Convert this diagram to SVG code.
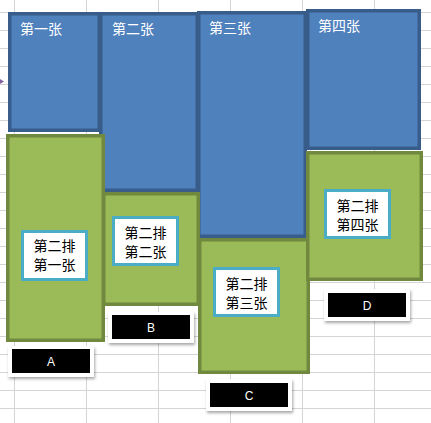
<svg xmlns="http://www.w3.org/2000/svg" width="431" height="423" viewBox="0 0 431 423">
<defs>
<filter id="sh" x="-20%" y="-30%" width="140%" height="170%">
<feDropShadow dx="1" dy="2" stdDeviation="1.5" flood-color="#000" flood-opacity="0.35"/>
</filter>
<style>
.grid line{stroke:#d4d4d4;stroke-width:1}
.blue{fill:#4f81bd;stroke:#385d8a;stroke-width:3.5}
.green{fill:#9bbb59;stroke:#71893f;stroke-width:3.5}
.lab{fill:#ffffff;stroke:#4bacc6;stroke-width:3}
.t{font-family:"Noto Sans CJK SC","Noto Sans CJK JP",sans-serif;font-size:14px;dominant-baseline:central}
.tw{fill:#ffffff}
.tb{fill:#000000;text-anchor:middle}
.card{fill:#ffffff;filter:url(#sh)}
.blk{fill:#000000}
.letter{font-family:"Liberation Sans",Arial,sans-serif;font-size:12px;fill:#ffffff;text-anchor:middle;dominant-baseline:central}
</style>
</defs>
<rect x="0" y="0" width="431" height="423" fill="#ffffff"/>
<g class="grid">
<line x1="14.5" y1="0" x2="14.5" y2="423"/>
<line x1="86.5" y1="0" x2="86.5" y2="423"/>
<line x1="158.5" y1="0" x2="158.5" y2="423"/>
<line x1="230.5" y1="0" x2="230.5" y2="423"/>
<line x1="302.5" y1="0" x2="302.5" y2="423"/>
<line x1="374.5" y1="0" x2="374.5" y2="423"/>
<line x1="0" y1="12.5" x2="431" y2="12.5"/>
<line x1="0" y1="30.5" x2="431" y2="30.5"/>
<line x1="0" y1="48.5" x2="431" y2="48.5"/>
<line x1="0" y1="66.5" x2="431" y2="66.5"/>
<line x1="0" y1="84.5" x2="431" y2="84.5"/>
<line x1="0" y1="102.5" x2="431" y2="102.5"/>
<line x1="0" y1="120.5" x2="431" y2="120.5"/>
<line x1="0" y1="138.5" x2="431" y2="138.5"/>
<line x1="0" y1="156.5" x2="431" y2="156.5"/>
<line x1="0" y1="174.5" x2="431" y2="174.5"/>
<line x1="0" y1="192.5" x2="431" y2="192.5"/>
<line x1="0" y1="210.5" x2="431" y2="210.5"/>
<line x1="0" y1="228.5" x2="431" y2="228.5"/>
<line x1="0" y1="246.5" x2="431" y2="246.5"/>
<line x1="0" y1="264.5" x2="431" y2="264.5"/>
<line x1="0" y1="282.5" x2="431" y2="282.5"/>
<line x1="0" y1="300.5" x2="431" y2="300.5"/>
<line x1="0" y1="318.5" x2="431" y2="318.5"/>
<line x1="0" y1="336.5" x2="431" y2="336.5"/>
<line x1="0" y1="354.5" x2="431" y2="354.5"/>
<line x1="0" y1="372.5" x2="431" y2="372.5"/>
<line x1="0" y1="390.5" x2="431" y2="390.5"/>
<line x1="0" y1="408.5" x2="431" y2="408.5"/>
</g>
<polygon points="0,79 4,81.5 0,84" fill="#8064a2"/>
<g id="card1">
<rect class="blue" x="9.75" y="13.75" width="89.5" height="116.5"/>
<text class="t tw" x="20" y="28">第一张</text>
</g>
<g id="card2">
<rect class="blue" x="100.75" y="13.75" width="96.5" height="176.5"/>
<text class="t tw" x="112" y="28">第二张</text>
</g>
<g id="card3">
<rect class="blue" x="198.75" y="12.75" width="106.5" height="223.5"/>
<text class="t tw" x="209" y="26.5">第三张</text>
</g>
<g id="card4">
<rect class="blue" x="307.75" y="10.75" width="111.5" height="137.5"/>
<text class="t tw" x="318" y="24.5">第四张</text>
</g>
<g id="rowA">
<rect class="green" x="7.75" y="135.75" width="95.5" height="204.5"/>
<rect class="lab" x="22.5" y="231.5" width="64" height="48"/>
<text class="t tb" x="54.5" y="245">第二排</text>
<text class="t tb" x="54.5" y="264">第一张</text>
</g>
<g id="rowB">
<rect class="green" x="103.75" y="193.75" width="94.5" height="110.5"/>
<rect class="lab" x="113.5" y="217.5" width="64" height="47"/>
<text class="t tb" x="145.5" y="231.5">第二排</text>
<text class="t tb" x="145.5" y="251">第二张</text>
</g>
<g id="rowC">
<rect class="green" x="199.75" y="239.75" width="108.5" height="132.5"/>
<rect class="lab" x="214.5" y="268.5" width="64" height="47"/>
<text class="t tb" x="246.5" y="282.5">第二排</text>
<text class="t tb" x="246.5" y="301.5">第三张</text>
</g>
<g id="rowD">
<rect class="green" x="307.75" y="152.75" width="113.5" height="126.5"/>
<rect class="lab" x="325.5" y="190.5" width="64" height="47"/>
<text class="t tb" x="357.5" y="204.5">第二排</text>
<text class="t tb" x="357.5" y="223.5">第四张</text>
</g>
<g id="labelA">
<rect class="card" x="8" y="346" width="86" height="31"/>
<rect class="blk" x="12" y="349" width="78" height="24"/>
<text class="letter" x="51" y="362">A</text>
</g>
<g id="labelB">
<rect class="card" x="108" y="312" width="86" height="31"/>
<rect class="blk" x="112" y="315" width="78" height="24"/>
<text class="letter" x="151" y="327.5">B</text>
</g>
<g id="labelC">
<rect class="card" x="206" y="379" width="86" height="32"/>
<rect class="blk" x="210" y="383" width="78" height="24"/>
<text class="letter" x="249" y="395.5">C</text>
</g>
<g id="labelD">
<rect class="card" x="324" y="289" width="86" height="32"/>
<rect class="blk" x="328" y="293" width="78" height="24"/>
<text class="letter" x="367" y="305.5">D</text>
</g>
<g id="connectors"></g>
</svg>
